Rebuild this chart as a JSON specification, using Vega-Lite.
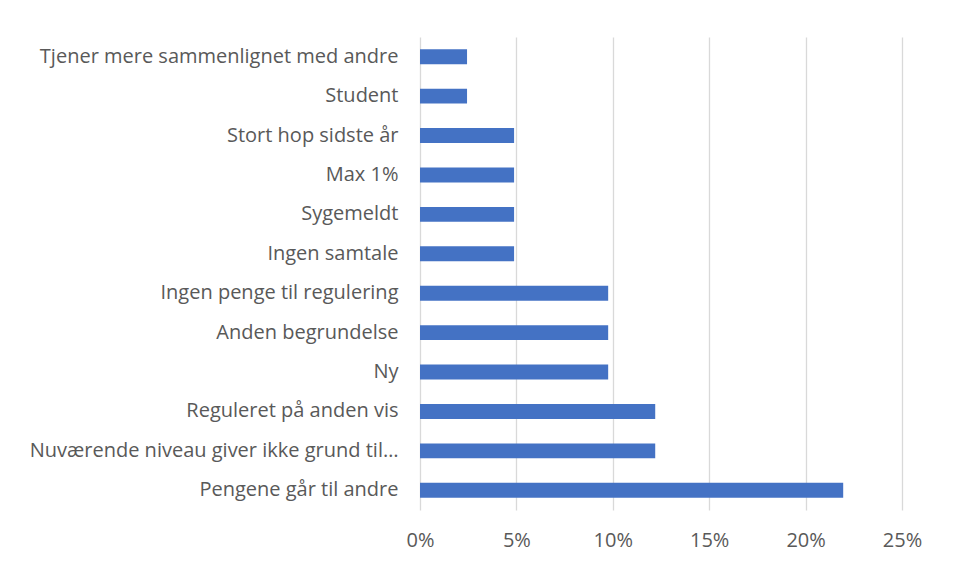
{
  "$schema": "https://vega.github.io/schema/vega-lite/v6.json",
  "width": 482,
  "height": 473,
  "autosize": {"type": "none"},
  "padding": {"left": 420, "top": 37, "right": 51, "bottom": 56},
  "background": "white",
  "data": {"values": [
    {"label": "Tjener mere sammenlignet med andre", "share": 0.0244},
    {"label": "Student", "share": 0.0244},
    {"label": "Stort hop sidste år", "share": 0.0488},
    {"label": "Max 1%", "share": 0.0488},
    {"label": "Sygemeldt", "share": 0.0488},
    {"label": "Ingen samtale", "share": 0.0488},
    {"label": "Ingen penge til regulering", "share": 0.0976},
    {"label": "Anden begrundelse", "share": 0.0976},
    {"label": "Ny", "share": 0.0976},
    {"label": "Reguleret på anden vis", "share": 0.122},
    {"label": "Nuværende niveau giver ikke grund til regulering", "share": 0.122},
    {"label": "Pengene går til andre", "share": 0.2195}
  ]},
  "mark": {"type": "bar", "color": "#4472C4"},
  "encoding": {
    "y": {
      "field": "label", "type": "nominal", "sort": null,
      "scale": {"paddingInner": 0.62, "paddingOuter": 0.31},
      "axis": {"title": null, "domain": false, "ticks": false, "labelPadding": 22, "labelFontSize": 20, "labelFont": "Open Sans", "labelColor": "#595959", "labelLimit": 372}
    },
    "x": {
      "field": "share", "type": "quantitative",
      "scale": {"domain": [0, 0.25], "nice": false},
      "axis": {"title": null, "format": ".0%", "values": [0, 0.05, 0.1, 0.15, 0.2, 0.25], "domain": false, "ticks": false, "labelFlush": false, "labelPadding": 20, "labelFontSize": 20, "labelFont": "Open Sans", "labelColor": "#595959", "gridColor": "#d9d9d9", "gridWidth": 1.3}
    }
  },
  "config": {"view": {"stroke": null}}
}
